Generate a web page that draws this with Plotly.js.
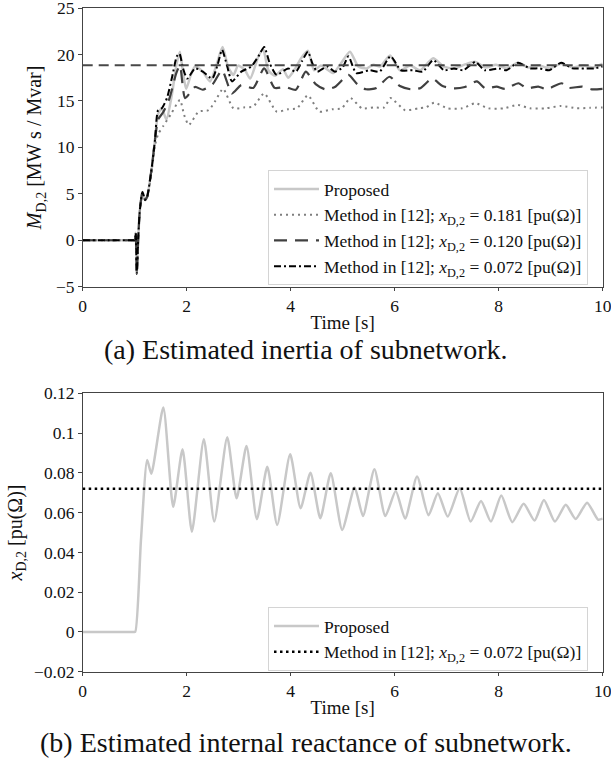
<!DOCTYPE html>
<html>
<head>
<meta charset="utf-8">
<script src="https://cdn.plot.ly/plotly-3.0.1.min.js"></script>
<style>html,body{margin:0;padding:0;background:#fff;}#chart{width:611px;height:764px;}</style>
</head>
<body>
<div id="chart"></div>
<script>
// ---------- (a) inertia, MW s / Mvar ----------
const tProposedA = [0,0.5,0.97,1.0,1.02,1.04,1.07,1.10,1.15,1.20,1.24,1.33,
  1.39,1.45,1.52,1.61,1.71,1.81,1.87,1.93,1.99,2.08,
  2.16,2.30,2.45,2.58,2.69,2.80,2.90,2.99,3.12,3.22,
  3.38,3.47,3.57,3.70,3.85,3.95,4.10,4.20,4.33,4.45,
  4.58,4.70,4.82,4.95,5.14,5.30,5.46,5.59,5.72,5.91,
  6.10,6.30,6.49,6.74,6.94,7.14,7.34,7.55,7.75,7.95,
  8.15,8.37,8.58,8.78,8.98,9.20,9.42,9.62,9.82,10.0];
const mProposedA = [0,0,0,0,0.8,-3.6,0.5,3.3,5.2,4.35,4.7,7.9,
  10.8,13.6,14.2,13.0,15.5,19.1,20.3,18.0,16.3,17.8,
  18.7,18.2,17.1,19.0,20.8,18.6,17.8,18.8,18.3,17.4,
  19.8,20.6,18.3,17.7,18.4,17.5,18.6,19.6,20.4,18.3,
  18.8,18.4,18.0,18.9,20.3,18.7,18.5,18.9,18.7,19.9,
  18.3,18.8,18.3,19.6,18.7,18.5,18.9,19.2,18.6,18.9,
  18.5,19.1,18.6,18.8,18.5,19.0,18.6,18.8,18.6,19.0];

const tM181 = [0,0.5,0.97,1.0,1.02,1.04,1.07,1.10,1.15,1.20,1.24,1.33,
  1.39,1.45,1.55,1.70,1.87,1.95,2.04,2.23,2.42,2.55,
  2.70,2.90,3.10,3.28,3.49,3.73,3.95,4.12,4.33,4.55,
  4.80,4.98,5.15,5.37,5.60,5.80,5.92,6.20,6.45,6.60,
  6.76,7.02,7.30,7.55,7.80,8.10,8.37,8.60,8.90,9.20,
  9.50,9.75,10.0];
const mM181 = [0,0,0,0,0.8,-3.6,0.5,3.3,5.0,4.3,4.6,7.6,
  10.2,11.4,12.3,13.6,15.1,13.5,12.4,13.85,14.0,15.0,
  16.3,14.2,14.3,14.4,15.8,13.85,14.1,14.2,15.6,13.85,
  14.1,14.2,15.3,14.2,14.3,14.3,15.3,14.0,14.2,14.3,
  14.8,14.2,14.2,14.75,14.2,14.2,14.57,14.2,14.2,14.46,
  14.2,14.25,14.3];

const tM120 = [0,0.5,0.97,1.0,1.02,1.04,1.07,1.10,1.15,1.20,1.24,1.33,
  1.39,1.45,1.55,1.67,1.80,1.87,1.97,2.16,2.31,2.50,
  2.68,2.87,3.05,3.28,3.49,3.69,3.90,4.10,4.29,4.48,
  4.66,4.85,5.11,5.28,5.45,5.65,5.90,6.10,6.31,6.50,
  6.72,6.92,7.14,7.35,7.58,7.74,7.96,8.12,8.38,8.54,
  8.76,8.92,9.21,9.34,9.60,9.79,10.0];
const mM120 = [0,0,0,0,0.8,-3.6,0.5,3.3,5.2,4.35,4.7,7.9,
  10.8,13.0,13.8,15.3,18.0,18.8,15.3,16.5,16.2,16.8,
  18.3,15.8,16.7,16.4,18.5,16.4,16.5,16.2,18.15,16.8,
  16.25,16.5,17.8,16.8,16.25,16.4,17.6,16.6,16.25,16.4,
  17.4,16.6,16.35,16.5,17.1,16.36,16.54,16.29,16.9,16.36,
  16.54,16.25,16.9,16.4,16.54,16.25,16.3];

const tM072 = [0,0.5,0.97,1.0,1.02,1.04,1.07,1.10,1.15,1.20,1.24,1.33,
  1.39,1.45,1.52,1.62,1.72,1.81,1.86,1.93,2.01,2.16,
  2.31,2.49,2.60,2.68,2.78,2.87,3.05,3.24,3.38,3.49,
  3.60,3.73,3.95,4.10,4.22,4.33,4.42,4.51,4.70,4.85,
  5.00,5.11,5.26,5.52,5.71,5.92,6.12,6.35,6.54,6.74,
  6.95,7.14,7.32,7.55,7.73,8.0,8.15,8.37,8.6,8.78,
  8.97,9.2,9.42,9.65,9.84,10.0];
const mM072 = [0,0,0,0,0.8,-3.6,0.5,3.3,5.2,4.35,4.7,7.9,
  10.8,14.0,14.2,15.3,17.6,19.8,20.1,18.5,17.4,18.5,
  18.15,17.4,19.0,20.5,18.7,17.1,18.15,18.7,19.8,20.8,
  19.0,17.8,18.5,18.15,19.3,20.3,19.0,18.15,18.7,18.15,
  18.6,19.8,18.0,18.3,18.15,19.8,18.3,18.3,18.15,19.4,
  18.3,18.5,18.3,19.2,18.3,18.5,18.3,19.1,18.5,18.5,
  18.3,19.1,18.5,18.5,18.5,18.7];

const tRefA = [0,10];
const mRefA = [18.85,18.85];

// ---------- (b) internal reactance, pu ----------
const tProposedB = [0,0.5,0.97,1.01,1.12,1.24,1.32,1.55,1.74,1.92,2.10,2.33,
  2.53,2.78,2.96,3.15,3.35,3.55,3.74,3.99,4.19,4.38,
  4.57,4.77,4.99,5.23,5.39,5.61,5.82,6.02,6.20,6.43,
  6.65,6.83,7.02,7.25,7.46,7.66,7.85,8.05,8.26,8.48,
  8.69,8.87,9.08,9.29,9.48,9.70,9.91,10.0];
const xProposedB = [0,0,0,0,0.046,0.0865,0.0795,0.1128,0.063,0.0919,0.0504,0.0969,
  0.0555,0.0979,0.0672,0.0935,0.0567,0.0831,0.0538,0.0893,0.0622,0.0801,
  0.0572,0.0798,0.0513,0.0726,0.0583,0.0818,0.0583,0.0709,0.057,0.0781,
  0.0587,0.0697,0.058,0.0722,0.0555,0.0659,0.0555,0.0686,0.0552,0.0644,
  0.056,0.0664,0.0555,0.0639,0.0568,0.065,0.0565,0.057];
const tRefB = [0,10];
const xRefB = [0.072,0.072];

// ---------- tick labels ----------
const xTickVals = [0,2,4,6,8,10];
const xTickText = ['0','2','4','6','8','10'];
const yTickValsA = [-5,0,5,10,15,20,25];
const yTickTextA = ['\u22125','0','5','10','15','20','25'];
const yTickValsB = [-0.02,0,0.02,0.04,0.06,0.08,0.1,0.12];
const yTickTextB = ['\u22120.02','0','0.02','0.04','0.06','0.08','0.1','0.12'];

const labelA = 'Proposed';
const label181 = 'Method in [12]; <i>x</i><sub>D,2</sub> = 0.181 [pu(\u03A9)]';
const label120 = 'Method in [12]; <i>x</i><sub>D,2</sub> = 0.120 [pu(\u03A9)]';
const label072 = 'Method in [12]; <i>x</i><sub>D,2</sub> = 0.072 [pu(\u03A9)]';

const FONT = 'Liberation Serif, "Times New Roman", serif';
const W = 611, H = 764;

const traces = [
  {x:tProposedA, y:mProposedA, xaxis:'x', yaxis:'y', name:labelA, mode:'lines', legend:'legend',
   line:{color:'#c8c8c8', width:2.5, shape:'spline', smoothing:0.6}},
  {x:tM181, y:mM181, xaxis:'x', yaxis:'y', name:label181, mode:'lines', legend:'legend',
   line:{color:'#7f7f7f', width:2, dash:'2px,4px', shape:'spline', smoothing:0.6}},
  {x:tM120, y:mM120, xaxis:'x', yaxis:'y', name:label120, mode:'lines', legend:'legend',
   line:{color:'#404040', width:2.2, dash:'13px,8px', shape:'spline', smoothing:0.6}},
  {x:tM072, y:mM072, xaxis:'x', yaxis:'y', name:label072, mode:'lines', legend:'legend',
   line:{color:'#000000', width:2, dash:'7px,3px,2px,3px', shape:'spline', smoothing:0.6}},
  {x:tRefA, y:mRefA, xaxis:'x', yaxis:'y', showlegend:false, mode:'lines',
   line:{color:'#484848', width:2, dash:'10px,6px'}},
  {x:tProposedB, y:xProposedB, xaxis:'x2', yaxis:'y2', name:labelA, mode:'lines', legend:'legend2',
   line:{color:'#c8c8c8', width:2.5, shape:'spline', smoothing:0.6}},
  {x:tRefB, y:xRefB, xaxis:'x2', yaxis:'y2', name:label072, mode:'lines', legend:'legend2',
   line:{color:'#000000', width:2.5, dash:'2.5px,3.5px'}}
];

function axis(extra){
  return Object.assign({
    showline:true, mirror:true, linecolor:'#444', linewidth:1.2,
    ticks:'outside', ticklen:3.5, tickcolor:'#444', tickwidth:1,
    showgrid:false, zeroline:false, ticklabeloverflow:'allow',
    tickfont:{family:FONT, size:17.5, color:'#111'}
  }, extra);
}
const TF = {family:FONT, size:19, color:'#111'};
const TFY = {family:FONT, size:20, color:'#111'};
const xDom = [82.7/W, 602.7/W];
const layout = {
  width:W, height:H, margin:{l:0,r:0,t:0,b:0},
  paper_bgcolor:'#fff', plot_bgcolor:'#fff', showlegend:true,
  xaxis: axis({domain:xDom, anchor:'y', range:[0,10], tickvals:xTickVals, ticktext:xTickText,
    title:{text:'Time [s]', font:TF, standoff:0}}),
  yaxis: axis({domain:[1-286.7/H, 1-8/H], anchor:'x', range:[-5,25], tickvals:yTickValsA, ticktext:yTickTextA,
    title:{text:'<i>M</i><sub>D,2</sub> [MW s / Mvar]', font:TFY, standoff:8}}),
  xaxis2: axis({domain:xDom, anchor:'y2', range:[0,10], tickvals:xTickVals, ticktext:xTickText,
    title:{text:'Time [s]', font:TF, standoff:0}}),
  yaxis2: axis({domain:[1-671.7/H, 1-393.3/H], anchor:'x2', range:[-0.02,0.12], tickvals:yTickValsB, ticktext:yTickTextB,
    title:{text:'<i>x</i><sub>D,2</sub> [pu(\u03A9)]', font:TFY, standoff:6}}),
  legend: {x:268/W, y:1-170/H, xanchor:'left', yanchor:'top', bgcolor:'rgba(255,255,255,0.85)',
    bordercolor:'#d4d4d4', borderwidth:1, itemwidth:45, font:{family:FONT, size:17.5, color:'#111'}},
  legend2: {x:268/W, y:1-607/H, xanchor:'left', yanchor:'top', bgcolor:'rgba(255,255,255,0.85)',
    bordercolor:'#d4d4d4', borderwidth:1, itemwidth:45, font:{family:FONT, size:17.5, color:'#111'}},
  annotations: [
    {text:'(a) Estimated inertia of subnetwork.', xref:'paper', yref:'paper', x:0.5, y:1-349/H,
     xanchor:'center', yanchor:'middle', showarrow:false, font:{family:FONT, size:28, color:'#111'}},
    {text:'(b) Estimated internal reactance of subnetwork.', xref:'paper', yref:'paper', x:0.5, y:1-742/H,
     xanchor:'center', yanchor:'middle', showarrow:false, font:{family:FONT, size:28, color:'#111'}}
  ]
};
Plotly.newPlot('chart', traces, layout, {displayModeBar:false, staticPlot:true});
</script>
</body>
</html>
